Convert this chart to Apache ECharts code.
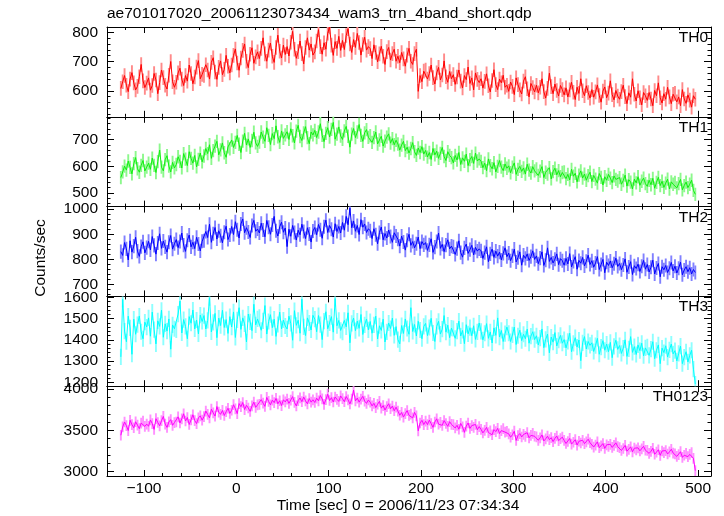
<!DOCTYPE html>
<html><head><meta charset="utf-8">
<script src="https://cdn.jsdelivr.net/npm/echarts@6/dist/echarts.min.js"></script>
<style>html,body{margin:0;padding:0;background:#fff}#c{width:724px;height:516px}</style>
</head><body><div id="c"></div>
<script>
const chartTitle = "ae701017020_20061123073434_wam3_trn_4band_short.qdp";
const xTitle = "Time [sec] 0 = 2006/11/23 07:34:34";
const yTitle = "Counts/sec";
const bandNames = ["TH0", "TH1", "TH2", "TH3", "TH0123"];
// time grid of the light curve bins (seconds)
const tStart = -125, tStep = 2;

const th0 = [
608,631,652,619,597,640,662,627,603,615,648,690,634,611,626,
644,602,618,659,637,590,628,671,645,619,606,653,700,631,612,
629,661,677,640,618,652,633,688,659,624,647,681,703,641,656,
652,689,671,640,697,713,664,639,680,702,655,673,721,684,661,
688,721,743,695,670,712,738,760,701,679,725,747,694,716,733,
710,745,781,726,701,739,763,718,697,748,790,735,712,756,724,
751,719,766,803,742,711,734,770,727,692,748,781,739,760,722,
733,770,809,751,725,764,742,797,818,756,721,768,745,786,738,
772,741,789,812,760,731,775,748,796,765,722,758,783,739,751,
744,710,757,731,699,726,752,718,690,734,748,705,727,742,701,
718,696,731,709,684,722,745,701,690,727,742,598,652,631,667,
671,640,659,688,645,623,661,680,637,654,702,648,629,666,641,
655,622,647,671,633,610,652,638,681,625,644,603,661,639,628,
641,609,632,658,617,596,635,672,621,604,640,627,653,612,619,
598,630,615,587,644,621,603,589,633,648,607,579,625,611,596,
619,593,612,641,597,575,608,660,614,590,623,601,582,618,604,
586,610,579,603,629,595,570,612,591,641,600,583,617,594,575,
604,578,596,620,584,561,599,613,576,592,634,587,569,601,582,
571,597,619,580,556,593,578,641,588,565,600,576,552,594,583,
567,594,572,549,601,583,627,576,558,590,571,612,579,556,588,
591,562,579,549,604,572,557,586,568,544,583,571];

const th1 = [
558,579,601,586,620,596,572,610,633,591,578,604,622,583,597,
612,589,631,604,577,618,661,597,583,625,640,601,579,615,594,
607,636,619,594,648,627,603,655,630,612,641,598,626,650,617,
639,667,648,681,630,659,676,694,643,662,688,651,634,673,666,
699,671,690,716,683,652,695,724,680,703,671,697,728,688,675,
691,729,710,694,745,716,682,723,704,752,711,690,733,705,718,
730,701,741,715,688,732,754,712,697,726,749,708,685,729,718,
735,708,729,760,716,693,724,745,710,739,765,702,721,748,714,
701,733,750,713,672,721,742,708,729,757,716,694,726,738,709,
715,690,708,729,684,699,713,676,695,710,722,687,704,681,698,
684,661,680,694,659,672,650,667,689,655,641,669,652,674,646,
660,635,652,626,667,643,657,630,649,671,637,622,655,641,633,
613,641,624,652,607,632,619,646,603,625,637,611,650,620,628,
619,595,612,584,628,603,591,614,579,600,622,597,584,609,593,
602,576,597,613,570,589,600,581,594,571,608,586,575,599,583,
590,566,582,599,558,578,571,595,553,580,593,568,584,561,577,
579,554,570,549,589,563,574,542,567,583,556,571,548,565,578,
543,566,552,537,573,559,530,561,548,570,556,539,564,551,545,
558,533,547,567,526,550,541,515,552,538,561,529,544,556,535,
525,548,531,555,518,540,559,528,544,521,537,552,515,542,533,
540,519,535,551,512,528,541,520,533,548,510,495];

const th2 = [
831,816,867,842,798,874,829,853,888,833,812,851,870,826,847,
872,838,891,856,821,865,902,844,873,850,829,868,895,841,862,
879,847,871,905,857,832,876,897,850,868,843,888,861,834,872,
874,911,887,940,868,902,927,881,914,894,866,908,932,879,897,
931,899,950,918,885,941,961,906,926,909,887,935,955,912,921,
905,944,917,890,955,928,900,937,971,914,893,930,948,908,925,
851,920,892,935,907,877,916,898,940,911,883,926,901,869,913,
927,898,939,918,884,930,956,907,935,920,889,942,911,931,905,
947,916,971,938,1004,926,953,912,935,899,958,928,941,907,922,
914,883,922,898,862,907,929,878,903,885,917,891,868,906,893,
880,853,893,869,837,876,900,856,871,846,862,889,843,871,858,
867,836,858,882,828,849,871,905,844,860,831,857,878,842,853,
850,820,843,874,827,809,846,861,824,839,856,818,848,833,842,
834,804,827,850,791,822,841,808,833,813,829,798,824,846,811,
825,795,814,841,790,807,830,777,817,804,822,796,811,834,800,
814,783,805,830,776,797,846,792,808,786,801,822,779,803,795,
777,804,782,823,770,792,811,761,796,785,808,774,793,817,780,
795,769,786,811,760,780,800,747,789,776,794,767,783,805,772,
784,759,778,802,749,770,791,740,775,764,781,752,773,796,761,
780,750,769,797,742,766,784,731,771,759,776,748,765,788,754,
773,746,765,789,739,758,771,751,767,742,760,748];

const th3 = [
1320,1590,1441,1391,1511,1456,1332,1497,1426,1471,1512,1438,1405,1483,1460,
1503,1417,1530,1448,1381,1489,1463,1539,1412,1475,1441,1498,1356,1470,1452,
1447,1521,1582,1432,1495,1463,1405,1509,1478,1540,1451,1493,1428,1516,1486,
1514,1451,1491,1598,1437,1482,1524,1410,1502,1467,1539,1458,1495,1430,1509,
1460,1531,1411,1494,1551,1449,1503,1475,1390,1521,1484,1443,1567,1470,1498,
1506,1445,1489,1561,1427,1486,1518,1457,1497,1416,1472,1530,1451,1493,1465,
1451,1511,1477,1398,1537,1468,1492,1431,1591,1461,1420,1503,1479,1446,1515,
1497,1438,1514,1471,1401,1488,1532,1452,1479,1509,1436,1594,1466,1491,1444,
1436,1491,1461,1527,1386,1477,1502,1443,1488,1454,1519,1425,1470,1498,1447,
1486,1431,1470,1511,1404,1466,1444,1497,1390,1437,1479,1453,1502,1421,1462,
1401,1381,1467,1430,1498,1453,1426,1551,1439,1472,1418,1487,1446,1405,1463,
1477,1420,1458,1501,1432,1392,1463,1487,1427,1450,1514,1436,1469,1410,1455,
1453,1407,1441,1488,1418,1444,1382,1471,1428,1457,1419,1466,1402,1437,1479,
1440,1400,1431,1476,1407,1437,1385,1456,1421,1503,1413,1444,1392,1429,1460,
1431,1392,1423,1460,1378,1419,1445,1396,1426,1405,1450,1384,1417,1438,1401,
1419,1376,1408,1451,1363,1402,1427,1339,1413,1389,1434,1371,1398,1421,1384,
1401,1362,1393,1431,1344,1383,1410,1366,1399,1302,1386,1415,1357,1392,1374,
1386,1345,1373,1407,1332,1366,1396,1351,1380,1344,1388,1316,1369,1398,1355,
1373,1336,1361,1400,1322,1357,1415,1341,1368,1331,1376,1349,1384,1325,1362,
1367,1327,1356,1391,1311,1351,1376,1288,1361,1340,1372,1319,1353,1380,1334,
1349,1301,1336,1370,1288,1319,1344,1296,1327,1351,1262,1192];

const th0123 = [
3440,3541,3601,3556,3497,3622,3569,3531,3604,3563,3520,3588,3612,3547,3576,
3549,3626,3582,3511,3641,3595,3554,3617,3669,3576,3535,3602,3630,3561,3594,
3601,3664,3589,3640,3701,3613,3656,3571,3627,3689,3618,3582,3651,3676,3623,
3667,3734,3693,3651,3757,3712,3673,3789,3721,3694,3742,3680,3726,3768,3705,
3744,3811,3761,3703,3825,3787,3838,3752,3804,3771,3730,3796,3842,3779,3810,
3816,3873,3830,3791,3900,3851,3809,3867,3836,3888,3822,3859,3801,3871,3845,
3879,3827,3868,3910,3839,3796,3861,3893,3848,3905,3857,3822,3886,3842,3871,
3838,3891,3858,3923,3881,3816,3872,3939,3862,3897,3844,3905,3877,3851,3918,
3884,3847,3911,3871,3821,3878,3989,3857,3892,3842,3880,3913,3855,3827,3869,
3841,3797,3828,3776,3817,3852,3769,3801,3746,3789,3823,3762,3795,3738,3781,
3734,3683,3717,3661,3703,3740,3681,3697,3651,3718,3675,3494,3589,3621,3570,
3611,3569,3624,3581,3536,3601,3640,3575,3597,3561,3618,3583,3548,3605,3572,
3570,3529,3561,3513,3584,3541,3475,3552,3589,3523,3558,3536,3571,3507,3545,
3511,3469,3500,3536,3473,3494,3446,3509,3484,3524,3461,3497,3520,3478,3488,
3457,3416,3446,3489,3377,3435,3461,3419,3450,3426,3471,3409,3438,3462,3428,
3420,3379,3409,3444,3371,3397,3429,3386,3411,3363,3402,3431,3375,3399,3417,
3377,3340,3364,3401,3332,3355,3386,3321,3367,3346,3379,3338,3360,3392,3349,
3331,3297,3319,3360,3289,3311,3339,3280,3324,3304,3330,3292,3316,3348,3301,
3290,3255,3279,3317,3246,3269,3299,3239,3283,3263,3287,3251,3275,3306,3258,
3256,3220,3245,3282,3209,3235,3264,3196,3249,3229,3254,3212,3238,3270,3224,
3214,3183,3205,3240,3171,3197,3219,3180,3208,3230,3160,3010];

// 1-sigma error per bin for each band (counts/sec)
const bandErrors = [25, 25, 28, 38, 65];

const xTickLabels = [-100, 0, 100, 200, 300, 400, 500];
const yTickLabels = [
  [600, 700, 800],
  [500, 600, 700],
  [700, 800, 900, 1000],
  [1200, 1300, 1400, 1500, 1600],
  [3000, 3500, 4000]
];

const seriesValues = [th0, th1, th2, th3, th0123];
const lineColors = ['#ff0000', '#10f010', '#0000ff', '#00ffff', '#ff00ff'];
const errColors = ['#ff8a8a', '#8cf88c', '#8080ff', '#8cffff', '#ff90ff'];
const yRanges = [[511, 818], [449, 786], [653, 1010], [1182, 1604], [2945, 4036]];
const yMinorStep = [20, 20, 20, 20, 100];
const xRange = [-140, 514];

const FONT = "'Liberation Sans', Arial, Helvetica, sans-serif";
const FS = 15.5;
const panelTop = 27, panelH = 89.8, gridLeft = 107, gridRight = 13;

function minorList(lo, hi, step) {
  const out = [];
  for (let v = Math.ceil(lo / step) * step; v <= hi; v += step) out.push(v);
  return out;
}
function fmtNum(v) { return v < 0 ? '\u2212' + Math.abs(v) : String(v); }

const grids = [], xAxes = [], yAxes = [], series = [], graphics = [];
const xMinor = minorList(xRange[0], xRange[1], 20);

for (let i = 0; i < 5; i++) {
  const top = panelTop + i * panelH;
  grids.push({ left: gridLeft, right: gridRight, top: top, height: panelH, containLabel: false });
  const baseX = {
    type: 'value', gridIndex: i, min: xRange[0], max: xRange[1],
    splitLine: { show: false }, axisLine: { show: true, onZero: false, lineStyle: { color: '#000', width: 1 } }
  };
  ['bottom', 'top'].forEach(function (pos) {
    xAxes.push(Object.assign({}, baseX, {
      position: pos,
      axisTick: { show: true, inside: true, length: 6, customValues: xTickLabels, lineStyle: { color: '#000', width: 1 } },
      axisLabel: (pos === 'bottom' && i === 4) ? {
        show: true, customValues: xTickLabels, formatter: fmtNum, color: '#000', fontSize: FS, fontFamily: FONT, margin: 5
      } : { show: false }
    }));
    xAxes.push(Object.assign({}, baseX, {
      position: pos, axisLine: { show: false, onZero: false },
      axisTick: { show: true, inside: true, length: 3, customValues: xMinor, lineStyle: { color: '#000', width: 1 } },
      axisLabel: { show: false }
    }));
  });
  const yr = yRanges[i];
  const yMin = minorList(yr[0], yr[1], yMinorStep[i]);
  const baseY = {
    type: 'value', gridIndex: i, min: yr[0], max: yr[1], scale: true,
    splitLine: { show: false }, axisLine: { show: true, onZero: false, lineStyle: { color: '#000', width: 1 } }
  };
  ['left', 'right'].forEach(function (pos) {
    yAxes.push(Object.assign({}, baseY, {
      position: pos, z: (i === 4 && pos === 'left') ? 10 : 0,
      axisTick: { show: true, inside: true, length: 7, customValues: yTickLabels[i], lineStyle: { color: '#000', width: 1 } },
      axisLabel: pos === 'left' ? {
        show: true, customValues: yTickLabels[i], formatter: fmtNum, color: '#000', fontSize: FS, fontFamily: FONT, margin: 9
      } : { show: false }
    }));
    yAxes.push(Object.assign({}, baseY, {
      position: pos, axisLine: { show: false, onZero: false },
      axisTick: { show: true, inside: true, length: 3.5, customValues: yMin, lineStyle: { color: '#000', width: 1 } },
      axisLabel: { show: false }
    }));
  });

  const vals = seriesValues[i];
  const pts = vals.map(function (v, k) { return [tStart + k * tStep, v]; });
  const err = bandErrors[i];
  const ec = errColors[i];
  series.push({
    type: 'custom', xAxisIndex: 4 * i, yAxisIndex: 4 * i, data: pts, clip: true, z: 1,
    encode: { x: 0, y: 1 },
    renderItem: function (params, api) {
      const t = api.value(0), v = api.value(1);
      const p1 = api.coord([t, v - err]), p2 = api.coord([t, v + err]);
      return { type: 'line', shape: { x1: p1[0], y1: p1[1], x2: p2[0], y2: p2[1] },
        style: { stroke: ec, lineWidth: 1.9 } };
    }
  });
  series.push({
    type: 'line', xAxisIndex: 4 * i, yAxisIndex: 4 * i, data: pts, showSymbol: false, symbol: 'none',
    clip: true, z: 2, lineStyle: { color: lineColors[i], width: 1 }, itemStyle: { color: lineColors[i] }
  });
  graphics.push({
    type: 'text', x: 708, y: top + 10.8, z: 20,
    style: { text: bandNames[i], fill: '#000', font: FS + 'px ' + FONT, textAlign: 'right', textVerticalAlign: 'middle' }
  });
}

graphics.push({ type: 'text', x: 107, y: 14, style: { text: chartTitle, fill: '#000', font: FS + 'px ' + FONT, textAlign: 'left', textVerticalAlign: 'middle' } });
graphics.push({ type: 'text', x: 398, y: 506, style: { text: xTitle, fill: '#000', font: FS + 'px ' + FONT, textAlign: 'center', textVerticalAlign: 'middle' } });
graphics.push({ type: 'text', x: 41, y: 258, rotation: Math.PI / 2, style: { text: yTitle, fill: '#000', font: FS + 'px ' + FONT, textAlign: 'center', textVerticalAlign: 'middle' } });
// mask the overlapping lower part of the bottom label in the TH3 panel
graphics.push({ type: 'rect', z: 5, shape: { x: 50, y: panelTop + 4 * panelH + 0.5, width: 52, height: 10 }, style: { fill: '#fff' } });

const chart = echarts.init(document.getElementById('c'), null, { renderer: 'canvas' });
chart.setOption({
  animation: false, backgroundColor: '#fff',
  grid: grids, xAxis: xAxes, yAxis: yAxes, series: series, graphic: graphics
});
</script></body></html>
